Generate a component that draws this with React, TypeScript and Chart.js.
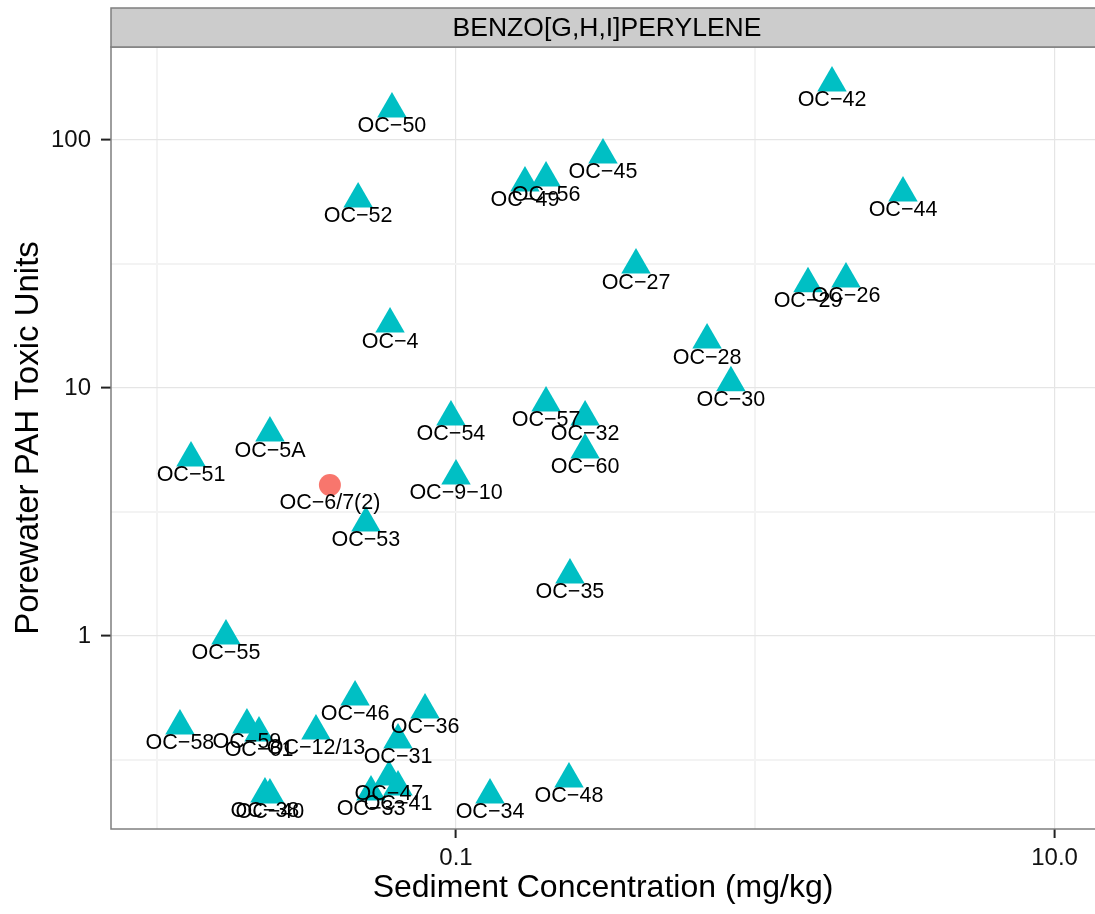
import React, { useEffect, useRef } from "react";
import { Chart, registerables } from "chart.js";

Chart.register(...registerables);

// Predicted (triangles)
const triIds = [
  "OC-50", "OC-42", "OC-45", "OC-49", "OC-56", "OC-52", "OC-44", "OC-27",
  "OC-29", "OC-26", "OC-4", "OC-28", "OC-30", "OC-57", "OC-54", "OC-32",
  "OC-5A", "OC-60", "OC-51", "OC-9-10", "OC-53", "OC-35", "OC-55", "OC-46",
  "OC-36", "OC-58", "OC-59", "OC-61", "OC-12/13", "OC-31", "OC-38", "OC-40",
  "OC-47", "OC-33", "OC-41", "OC-34", "OC-48",
];
const triSediment = [
  0.0611, 1.804, 0.3098, 0.170, 0.1999, 0.0471, 3.115, 0.3994,
  1.500, 2.009, 0.0602, 0.690, 0.829, 0.1999, 0.0962, 0.270,
  0.0239, 0.270, 0.01302, 0.100, 0.0500, 0.2403, 0.01704, 0.0460,
  0.0788, 0.01196, 0.02002, 0.02197, 0.03405, 0.0640, 0.0230, 0.0239,
  0.0597, 0.0520, 0.0640, 0.1299, 0.2385,
];
const triToxic = [
  133.4, 169.7, 87.0, 67.1, 70.3, 57.8, 61.1, 31.3,
  26.3, 27.5, 18.1, 15.6, 10.5, 8.70, 7.64, 7.64,
  6.58, 5.62, 5.22, 4.42, 2.855, 1.762, 1.0, 0.5675,
  0.503, 0.4336, 0.4377, 0.4064, 0.414, 0.381, 0.2306, 0.2285,
  0.270, 0.235, 0.246, 0.2285, 0.265,
];

// Observed (circle)
const obsIds = ["OC-6/7(2)"];
const obsSediment = [0.0379];
const obsToxic = [4.06];

const xTickValues = [0.01, 0.1, 1, 10];
const xTickLabels: Record<string, string> = { "0.1": "0.1", "10": "10.0" };
const yTickValues = [Math.pow(10, -0.5), 1, Math.pow(10, 0.5), 10, Math.pow(10, 1.5), 100];
const yTickLabels: Record<string, string> = { "1": "1", "10": "10", "100": "100" };

const stripTitle = "BENZO[G,H,I]PERYLENE";
const xTitle = "Sediment Concentration (mg/kg)";
const yTitle = "Porewater PAH Toxic Units";

const FONT = '"Liberation Sans", Arial, Helvetica, sans-serif';

const ggPlugin = {
  id: "ggDecor",
  beforeDraw(chart: any) {
    const { ctx, width, height } = chart;
    ctx.save();
    ctx.fillStyle = "#FFFFFF";
    ctx.fillRect(0, 0, width, height);
    ctx.restore();
  },
  afterDatasetsDraw(chart: any) {
    const { ctx } = chart;
    const a = chart.chartArea;
    const panelRight = a.right + 8; // panel continues past the picture edge
    ctx.save();
    ctx.font = `21.5px ${FONT}`;
    ctx.textAlign = "center";
    ctx.textBaseline = "middle";
    ctx.fillStyle = "#000000";
    chart.data.datasets.forEach((ds: any, di: number) => {
      const meta = chart.getDatasetMeta(di);
      meta.data.forEach((el: any, i: number) => {
        const txt = String(ds.ids[i]).replace(/-/g, "\u2212");
        ctx.fillText(txt, el.x, el.y + 17.5);
      });
    });
    // panel border
    ctx.strokeStyle = "#7F7F7F";
    ctx.lineWidth = 1.5;
    ctx.strokeRect(a.left, a.top, panelRight - a.left, a.bottom - a.top);
    // strip
    ctx.fillStyle = "#CCCCCC";
    ctx.fillRect(a.left, 8, panelRight - a.left, a.top - 8);
    ctx.strokeRect(a.left, 8, panelRight - a.left, a.top - 8);
    ctx.fillStyle = "#000000";
    ctx.font = `26.5px ${FONT}`;
    ctx.fillText(stripTitle, (a.left + panelRight) / 2, (8 + a.top) / 2 + 1);
    ctx.restore();
  },
};

function isLabeled(map: Record<string, string>, v: number) {
  return map[String(Math.round(v * 1000) / 1000)] !== undefined;
}

export default function App() {
  const ref = useRef<HTMLCanvasElement | null>(null);

  useEffect(() => {
    if (!ref.current) return;
    const chart = new Chart(ref.current, {
      type: "scatter",
      data: {
        datasets: [
          {
            label: "pred",
            ids: triIds,
            data: triSediment.map((x, i) => ({ x, y: triToxic[i] })),
            pointStyle: "triangle",
            pointRadius: 17,
            pointHoverRadius: 17,
            backgroundColor: "#00BFC4",
            borderWidth: 0,
          } as any,
          {
            label: "obs",
            ids: obsIds,
            data: obsSediment.map((x, i) => ({ x, y: obsToxic[i] })),
            pointStyle: "circle",
            pointRadius: 11,
            pointHoverRadius: 11,
            backgroundColor: "#F8766D",
            borderWidth: 0,
          } as any,
        ],
      },
      options: {
        responsive: false,
        animation: false,
        devicePixelRatio: 1,
        layout: { autoPadding: false, padding: { top: 47, right: 0, left: 0, bottom: 0 } },
        plugins: { legend: { display: false }, tooltip: { enabled: false } },
        scales: {
          x: {
            type: "logarithmic",
            min: Math.pow(10, -2.1527),
            max: Math.pow(10, 1.135),
            afterFit: (s: any) => { s.height = 85; s.paddingLeft = 0; s.paddingRight = 0; },
            afterBuildTicks: (s: any) => { s.ticks = xTickValues.map((v) => ({ value: v })); },
            border: { display: false },
            grid: {
              drawTicks: true,
              tickLength: 9,
              color: (c: any) => (isLabeled(xTickLabels, c.tick.value) ? "#E5E5E5" : "#F3F3F3"),
              lineWidth: (c: any) => (isLabeled(xTickLabels, c.tick.value) ? 1.2 : 2),
              tickColor: (c: any) => (isLabeled(xTickLabels, c.tick.value) ? "#222222" : "rgba(0,0,0,0)"),
              tickWidth: 2,
            },
            ticks: {
              autoSkip: false,
              maxRotation: 0,
              padding: 6,
              color: "#111111",
              font: { size: 24, family: FONT },
              callback: (v: any) => xTickLabels[String(Math.round(Number(v) * 1000) / 1000)] ?? "",
            },
            title: {
              display: true,
              text: xTitle,
              color: "#000000",
              font: { size: 32, family: FONT },
              padding: { top: 0, bottom: 7 },
            },
          },
          y: {
            type: "logarithmic",
            min: Math.pow(10, -0.7782),
            max: Math.pow(10, 2.375),
            afterFit: (s: any) => { s.width = 111; s.paddingTop = 0; s.paddingBottom = 0; },
            afterBuildTicks: (s: any) => { s.ticks = yTickValues.map((v) => ({ value: v })); },
            border: { display: false },
            grid: {
              drawTicks: true,
              tickLength: 10,
              color: (c: any) => (isLabeled(yTickLabels, c.tick.value) ? "#E5E5E5" : "#F3F3F3"),
              lineWidth: (c: any) => (isLabeled(yTickLabels, c.tick.value) ? 1.2 : 2),
              tickColor: (c: any) => (isLabeled(yTickLabels, c.tick.value) ? "#222222" : "rgba(0,0,0,0)"),
              tickWidth: 2,
            },
            ticks: {
              autoSkip: false,
              padding: 10,
              color: "#111111",
              font: { size: 24, family: FONT },
              callback: (v: any) => yTickLabels[String(Math.round(Number(v) * 1000) / 1000)] ?? "",
            },
            title: {
              display: true,
              text: yTitle,
              color: "#000000",
              font: { size: 33, family: FONT },
              padding: { top: 9, bottom: 0 },
            },
          },
        },
      } as any,
      plugins: [ggPlugin],
    });
    return () => chart.destroy();
  }, []);

  return (
    <div style={{ position: "absolute", left: 0, top: 0, width: 1095, height: 914 }}>
      <canvas ref={ref} width={1095} height={914} style={{ display: "block", width: 1095, height: 914 }} />
    </div>
  );
}
